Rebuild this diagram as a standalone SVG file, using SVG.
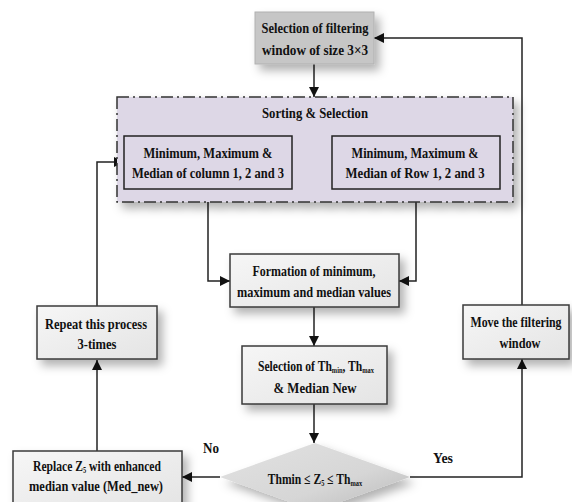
<svg xmlns="http://www.w3.org/2000/svg" width="572" height="502" viewBox="0 0 572 502">
<defs>
<marker id="ah" viewBox="0 0 10 10" refX="10" refY="5" markerWidth="10" markerHeight="10" markerUnits="userSpaceOnUse" orient="auto">
<path d="M0,0 L10,5 L0,10 Z" fill="#111"/>
</marker>
<filter id="sh" x="-20%" y="-20%" width="150%" height="160%">
<feDropShadow dx="5" dy="6" stdDeviation="5" flood-color="#000" flood-opacity="0.3"/>
</filter>
<linearGradient id="boxg" x1="0" y1="0" x2="1" y2="1">
<stop offset="0" stop-color="#f6f6f6"/>
<stop offset="1" stop-color="#e4e4e4"/>
</linearGradient>
<linearGradient id="dg" x1="0" y1="0" x2="1" y2="1">
<stop offset="0" stop-color="#e2e2e2"/>
<stop offset="0.6" stop-color="#d6d6d6"/>
<stop offset="1" stop-color="#b8b8b8"/>
</linearGradient>
</defs>
<style>
.t{font-family:"Liberation Serif","Times New Roman",serif;font-weight:bold;font-size:14.5px;fill:#111;text-anchor:middle}
.s{font-family:"Liberation Serif","Times New Roman",serif;font-weight:bold;font-size:14.5px;fill:#111;text-anchor:middle}
.box{fill:url(#boxg);stroke:#3a3a3a;stroke-width:1.5}
.inner{fill:#ddd7e6;stroke:#222;stroke-width:1.5}
.c{fill:none;stroke:#222;stroke-width:1.5}
.a{marker-end:url(#ah)}
.sub{font-size:8px}
</style>
<rect width="572" height="502" fill="#ffffff"/>

<g id="connectors">
<path class="c a" d="M314,64 L314,97"/>
<path class="c a" d="M208,189 L208,281 L230,281"/>
<path class="c a" d="M416,189 L416,281 L399,281"/>
<path class="c a" d="M314,307 L314,346"/>
<path class="c a" d="M314,404 L314,443"/>
<path class="c a" d="M220,477 L182,477"/>
<path class="c a" d="M97,451 L97,360"/>
<path class="c a" d="M97,306 L97,162 L124,162"/>
<path class="c a" d="M410,477 L522,477 L522,359"/>
<path class="c a" d="M522,305 L522,38 L374,38"/>
</g>

<g id="n-select-window">
<rect x="255" y="12" width="119" height="52" fill="#c6c6c6" stroke="#b0b0b0" stroke-width="1" filter="url(#sh)"/>
<text class="t" x="315" y="33" textLength="107" lengthAdjust="spacingAndGlyphs">Selection of filtering</text>
<text class="t" x="315" y="55" textLength="106" lengthAdjust="spacingAndGlyphs">window of size 3×3</text>
</g>

<g id="n-sorting">
<rect x="117" y="97" width="396" height="105" fill="#ddd7e6" stroke="#333" stroke-width="1.5" stroke-dasharray="12,4,2,4" filter="url(#sh)"/>
<text class="t" x="315" y="118" textLength="106" lengthAdjust="spacingAndGlyphs">Sorting &amp; Selection</text>
</g>

<g id="n-column">
<rect class="inner" x="124" y="136" width="168" height="53"/>
<text class="t" x="208" y="158" textLength="129" lengthAdjust="spacingAndGlyphs">Minimum, Maximum &amp;</text>
<text class="t" x="208" y="178" textLength="152" lengthAdjust="spacingAndGlyphs">Median of column 1, 2 and 3</text>
</g>

<g id="n-row">
<rect class="inner" x="332" y="136" width="168" height="53"/>
<text class="t" x="415" y="158" textLength="127" lengthAdjust="spacingAndGlyphs">Minimum, Maximum &amp;</text>
<text class="t" x="415" y="178" textLength="139" lengthAdjust="spacingAndGlyphs">Median of Row 1, 2 and 3</text>
</g>

<g id="n-formation">
<rect class="box" x="230" y="254" width="169" height="53" filter="url(#sh)"/>
<text class="t" x="314" y="276" textLength="123" lengthAdjust="spacingAndGlyphs">Formation of minimum,</text>
<text class="t" x="314" y="297" textLength="154" lengthAdjust="spacingAndGlyphs">maximum and median values</text>
</g>

<g id="n-threshold">
<rect class="box" x="242" y="346" width="145" height="58" filter="url(#sh)"/>
<text class="s" transform="translate(316,371) scale(0.8,1)">Selection of Th<tspan class="sub" dy="2">min</tspan><tspan dy="-2">, Th</tspan><tspan class="sub" dy="2">max</tspan></text>
<text class="t" x="315" y="393" textLength="83" lengthAdjust="spacingAndGlyphs">&amp; Median New</text>
</g>

<g id="n-decision">
<path d="M315,443 L410,477 L315,511 L220,477 Z" fill="url(#dg)" filter="url(#sh)"/>
<text class="s" transform="translate(315,484) scale(0.8,1)">Thmin ≤ Z<tspan class="sub" dy="2">5</tspan><tspan dy="-2"> ≤ Th</tspan><tspan class="sub" dy="2">max</tspan></text>
</g>

<g id="labels">
<text class="t" x="211" y="453" textLength="16" lengthAdjust="spacingAndGlyphs">No</text>
<text class="t" x="443" y="463" textLength="20" lengthAdjust="spacingAndGlyphs">Yes</text>
</g>

<g id="n-replace">
<rect class="box" x="13" y="451" width="169" height="58" filter="url(#sh)"/>
<text class="s" transform="translate(97,471) scale(0.8,1)">Replace Z<tspan class="sub" dy="2">5</tspan><tspan dy="-2"> with enhanced</tspan></text>
<text class="t" x="96" y="491" textLength="134" lengthAdjust="spacingAndGlyphs">median value (Med_new)</text>
</g>

<g id="n-repeat">
<rect class="box" x="37" y="306" width="120" height="53" filter="url(#sh)"/>
<text class="t" x="96" y="329" textLength="102" lengthAdjust="spacingAndGlyphs">Repeat this process</text>
<text class="t" x="97" y="349" textLength="39" lengthAdjust="spacingAndGlyphs">3-times</text>
</g>

<g id="n-move">
<rect class="box" x="463" y="305" width="106" height="54" filter="url(#sh)"/>
<text class="s" transform="translate(516,327) scale(0.82,1)">Move the filtering</text>
<text class="t" x="520" y="348" textLength="41" lengthAdjust="spacingAndGlyphs">window</text>
</g>
</svg>
